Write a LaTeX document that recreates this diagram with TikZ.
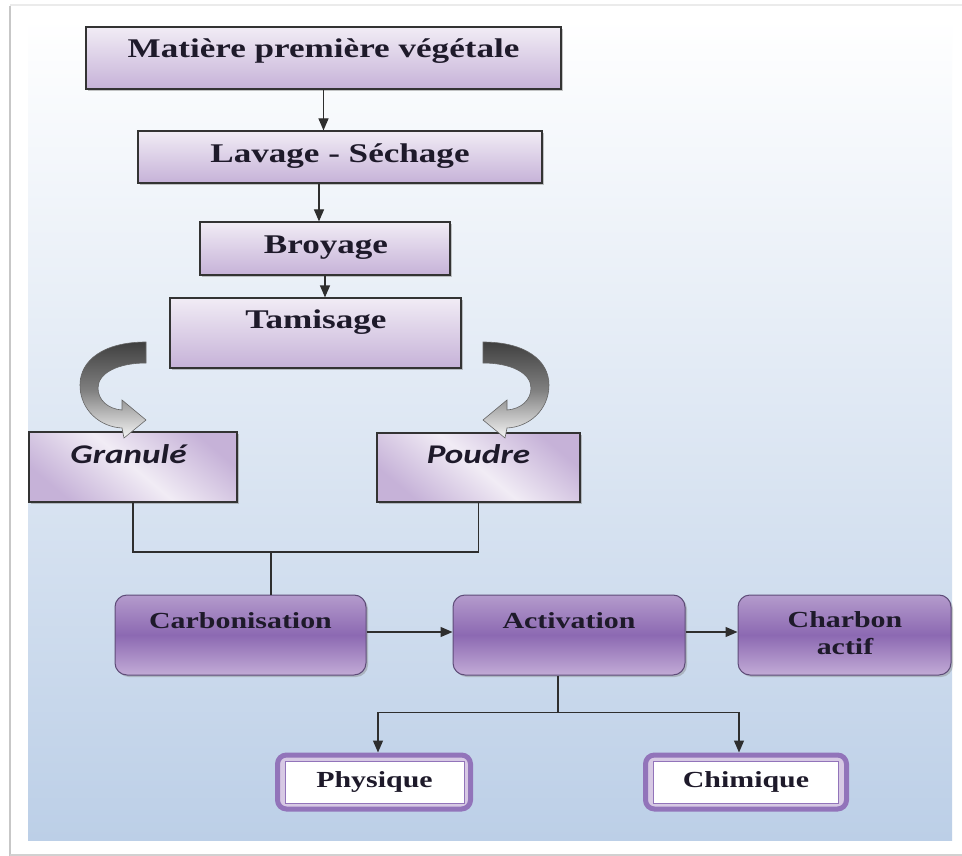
\documentclass[tikz,border=0pt]{standalone}
\usepackage{fontspec}
\newfontfamily\stepfont[FakeStretch=1.3]{Liberation Serif}
\newfontfamily\formfont[FakeStretch=1.3]{Carlito}
\usetikzlibrary{calc,shapes,shadows,arrows.meta}
\definecolor{lavlight}{HTML}{F1ECF5}
\definecolor{lavdark}{HTML}{C6B2D8}
\definecolor{plumtop}{HTML}{B49BCC}
\definecolor{plummid}{HTML}{8C69B2}
\definecolor{plumbot}{HTML}{C2ABD6}
\definecolor{plumedge}{HTML}{5E4C78}
\definecolor{ringcol}{HTML}{9274BA}
\definecolor{panelblue}{HTML}{BCCFE7}
\definecolor{inkcol}{HTML}{1E1A2A}
\definecolor{wirecol}{HTML}{2E2E2E}

\begin{document}
\begin{tikzpicture}[x=1pt,y=-1pt,
topbox/.style={rectangle,inner sep=0pt,draw=black!80,line width=1.2pt,top color=lavlight,bottom color=lavdark,drop shadow={shadow xshift=2pt,shadow yshift=-2pt,opacity=.45}},
formbox/.style={topbox,top color=lavdark,bottom color=lavdark,middle color=lavlight,shading angle=-40},
procbox/.style={rectangle,inner sep=0pt,rounded corners=12pt,draw=plumedge,line width=1pt,top color=plumtop,bottom color=plumbot,middle color=plummid,drop shadow={shadow xshift=2pt,shadow yshift=-2pt,opacity=.4}},
ringbox/.style={rectangle,inner sep=0pt,rounded corners=9pt,draw=ringcol,line width=5pt,fill=lavdark!70},
innerbox/.style={rectangle,inner sep=0pt,draw=ringcol,line width=1pt,fill=white,text=inkcol,font=\stepfont\bfseries\fontsize{23}{27}\selectfont},
toplab/.style={anchor=base,inner sep=0pt,text=inkcol,font=\stepfont\bfseries\fontsize{27}{32}\selectfont},
formlab/.style={anchor=base,inner sep=0pt,text=inkcol,font=\formfont\bfseries\itshape\fontsize{27}{32}\selectfont},
proclab/.style={anchor=base,inner sep=0pt,text=inkcol,font=\stepfont\bfseries\fontsize{23}{27}\selectfont},
wire/.style={draw=wirecol,line width=1.2pt},
flow/.style={wire,-{Triangle[length=12pt,width=10pt]}},
bendarrow/.style={draw=black!60,line width=.6pt,top color=black!75,bottom color=black!4,middle color=black!50}]
	\useasboundingbox (0,0) rectangle (962,856);
	%page and panel
	\fill[white] (0,0) rectangle (962,856);
	\draw[black!8, line width=2pt] (10,5) -- (962,5);
	\draw[black!22, line width=2pt] (10,6) -- (10,856);
	\draw[black!18, line width=2pt] (10,855) -- (962,855);
	\shade[top color=white, bottom color=panelblue] (28,18) rectangle (952,840);
	%preparation steps
	\node[topbox, minimum width=475, minimum height=62] at (323.5,58) (mat) {};
	\node[topbox, minimum width=404, minimum height=52] at (340,157) (lav) {};
	\node[topbox, minimum width=250, minimum height=53] at (325,248.5) (broy) {};
	\node[topbox, minimum width=291, minimum height=70] at (315.5,333) (tam) {};
	\node[toplab] at (323.5,58) (matt) {Matière première végétale};
	\node[toplab] at (340,163) (lavt) {Lavage - Séchage};
	\node[toplab] at (326,253) (broyt) {Broyage};
	\node[toplab] at (316,328) (tamt) {Tamisage};
	%forms
	\node[formbox, minimum width=208, minimum height=70] at (133,467) (gran) {};
	\node[formbox, minimum width=203, minimum height=69] at (478.5,467.5) (poud) {};
	\node[formlab] at (128.5,463) (grant) {Granulé};
	\node[formlab] at (478.5,463) (poudt) {Poudre};
	%bent arrows
	\foreach \mir/\off in {1/0,-1/629}{
	\begin{scope}[xshift=\off pt, xscale=\mir]
		\path[bendarrow] (146,342) .. controls (104,342) and (80,360) .. (80,385)
			.. controls (80,410) and (100,427) .. (122,428)
			-- (124,438) -- (146,420) -- (122,400) -- (122,410)
			.. controls (108,409) and (98,400) .. (98,388)
			.. controls (98,373) and (118,363) .. (146,363) -- cycle;
	\end{scope}
	}
	%process
	\node[procbox, minimum width=251, minimum height=80] at (240.5,635) (carb) {};
	\node[procbox, minimum width=232, minimum height=80] at (569,635) (activ) {};
	\node[procbox, minimum width=213, minimum height=80] at (844.5,635) (charb) {};
	\node[proclab] at (240.5,628) (carbt) {Carbonisation};
	\node[proclab] at (569,628) (activt) {Activation};
	\node[proclab, anchor=center, align=center] at (845,633) (charbt) {Charbon\\actif};
	%activation types
	\node[ringbox, minimum width=193, minimum height=54] at (374,782) (phys) {};
	\node[innerbox, minimum width=179, minimum height=42] at (374.5,782) (physin) {Physique};
	\node[ringbox, minimum width=201, minimum height=54] at (746,782) (chim) {};
	\node[innerbox, minimum width=185, minimum height=42] at (746,782) (chimin) {Chimique};
	%connectors
	\draw[flow] (mat.south) -- (mat.south |- lav.north);
	\draw[flow] ([xshift=-6pt]broy.north |- lav.south) -- ([xshift=-6pt]broy.north);
	\draw[flow] (broy.south) -- (broy.south |- tam.north);
	\coordinate (jn) at (271,552);
	\draw[wire] (gran.south) |- (jn) -| (poud.south);
	\draw[wire] (jn) -- (jn |- carb.north);
	\draw[flow] ([yshift=3pt]carb.east) -- ([yshift=3pt]activ.west);
	\draw[flow] ([yshift=3pt]activ.east) -- ([yshift=3pt]charb.west);
	\draw[wire] ([xshift=-11pt]activ.south) -- ++(0,37) coordinate (split);
	\draw[flow] (split) -| ([xshift=4pt]phys.north);
	\draw[flow] (split) -| ([xshift=-7pt]chim.north);
\end{tikzpicture}
\end{document}
